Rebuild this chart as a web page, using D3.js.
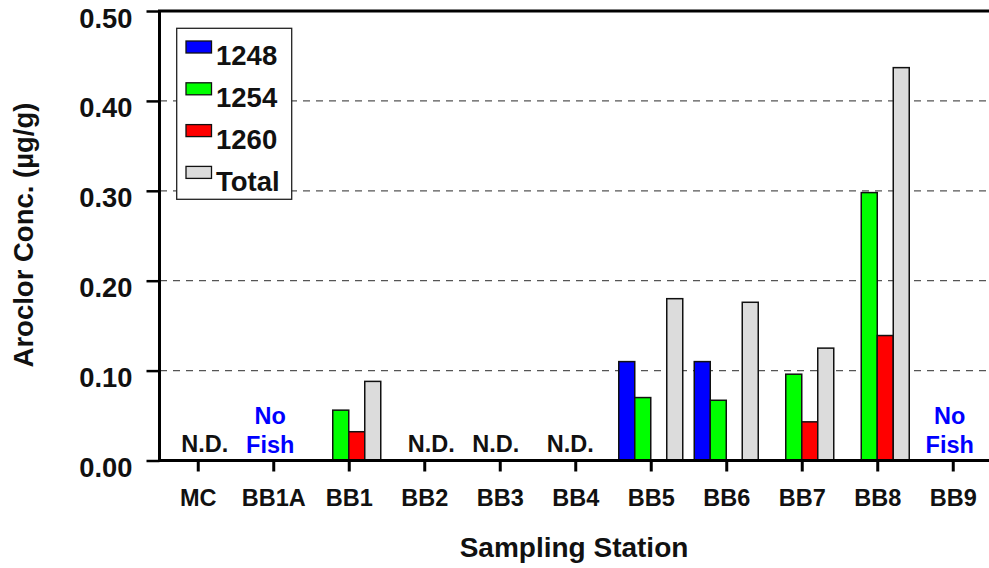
<!DOCTYPE html>
<html><head><meta charset="utf-8">
<script src="https://cdn.jsdelivr.net/npm/d3@7"></script>
<style>html,body{margin:0;padding:0;background:#fff;} text{font-family:"Liberation Sans",Arial,sans-serif;font-weight:bold;}</style>
</head><body>
<svg id="c" width="989" height="568"></svg>
<script>
const categories = ["MC","BB1A","BB1","BB2","BB3","BB4","BB5","BB6","BB7","BB8","BB9"];
const series = ["1248","1254","1260","Total"];
const a1248 = [null,null,null,null,null,null,0.110,0.110,null,null,null];
const a1254 = [null,null,0.056,null,null,null,0.070,0.067,0.096,0.298,null];
const a1260 = [null,null,0.032,null,null,null,null,null,0.043,0.139,null];
const aTotal = [null,null,0.088,null,null,null,0.180,0.176,0.125,0.437,null];
const notes = ["N.D.","No Fish","","N.D.","N.D.","N.D.","","","","","No Fish"];
const yTicks = [0,0.1,0.2,0.3,0.4,0.5];
const colors = ["#0000ff","#00ff00","#ff0000","#dcdcdc"];

const values = [a1248,a1254,a1260,aTotal];
const svg = d3.select("#c");
const x = d3.scalePoint().domain(categories).range([160,990.5]).padding(0.5);
const xs = d3.scaleBand().domain(series).range([-32,32]);
const y = d3.scaleLinear().domain([0,0.5]).range([460.5,11]);

// gridlines
svg.append("g").selectAll("line").data(yTicks.filter(d=>d>0 && d<0.5)).join("line")
  .attr("x1",160).attr("x2",989).attr("y1",d=>y(d)).attr("y2",d=>y(d))
  .attr("stroke","#555").attr("stroke-width",1.3).attr("stroke-dasharray","7,6");

// bars
const rows = [];
categories.forEach((c,i)=>series.forEach((s,j)=>{ if(values[j][i]!=null) rows.push({c,s,v:values[j][i],j}); }));
svg.append("g").selectAll("rect").data(rows).join("rect")
  .attr("x",d=>x(d.c)+xs(d.s)).attr("width",xs.bandwidth())
  .attr("y",d=>y(d.v)).attr("height",d=>y(0)-y(d.v))
  .attr("fill",d=>colors[d.j]).attr("stroke","#111").attr("stroke-width",1.5);

// notes
const nudge = {"MC":7,"BB2":7,"BB3":-4,"BB4":-5,"BB1A":-3,"BB9":-3};
categories.forEach((c,i)=>{
  const n = notes[i]; if(!n) return;
  if(n==="N.D."){
    svg.append("text").attr("x",x(c)+(nudge[c]||0)).attr("y",452).attr("text-anchor","middle")
      .attr("font-size",23.5).attr("fill","#111").text(n);
  } else {
    const parts = n.split(" ");
    svg.append("text").attr("x",x(c)+(nudge[c]||0)).attr("y",424).attr("text-anchor","middle")
      .attr("font-size",23.5).attr("fill","#0000ff").text(parts[0]);
    svg.append("text").attr("x",x(c)+(nudge[c]||0)).attr("y",453).attr("text-anchor","middle")
      .attr("font-size",23.5).attr("fill","#0000ff").text(parts[1]);
  }
});

// y axis
const ya = svg.append("g").attr("transform","translate(159.5,0)")
  .call(d3.axisLeft(y).tickValues(yTicks).tickFormat(d3.format(".2f")).tickSize(13).tickPadding(14));
ya.select(".domain").attr("stroke","#000").attr("stroke-width",3).attr("d","M0,12V462");
ya.selectAll(".tick line").attr("stroke","#000").attr("stroke-width",2.5);
ya.selectAll(".tick text").attr("font-size",27.3).attr("fill","#111").attr("dy",0).attr("y",16)
  .style("font-family","'Liberation Sans',Arial,sans-serif").style("font-weight","bold");

// x axis
const xa = svg.append("g").attr("transform","translate(0,460.5)")
  .call(d3.axisBottom(x).tickSize(11).tickPadding(10));
xa.select(".domain").attr("stroke","#000").attr("stroke-width",3).attr("d","M158,0H989");
xa.selectAll(".tick line").attr("stroke","#000").attr("stroke-width",3);
xa.selectAll(".tick text").attr("font-size",23.5).attr("fill","#111").attr("dy",0).attr("y",45.5)
  .style("font-family","'Liberation Sans',Arial,sans-serif").style("font-weight","bold");

// top frame line
svg.append("line").attr("x1",158).attr("x2",989).attr("y1",y(0.5)).attr("y2",y(0.5))
  .attr("stroke","#000").attr("stroke-width",3);

// titles
svg.append("text").attr("x",574).attr("y",557).attr("text-anchor","middle").attr("font-size",28)
  .attr("fill","#111").text("Sampling Station");
svg.append("text").attr("transform","translate(33,235) rotate(-90)").attr("text-anchor","middle")
  .attr("font-size",27.5).attr("fill","#111").text("Aroclor Conc. (µg/g)");

// legend
const lg = svg.append("g");
lg.append("rect").attr("x",176.7).attr("y",28.3).attr("width",115).attr("height",171)
  .attr("fill","#fff").attr("stroke","#222").attr("stroke-width",1.3);
series.forEach((s,j)=>{
  const yy = 41 + j*41.8;
  lg.append("rect").attr("x",186).attr("y",yy).attr("width",25.5).attr("height",12)
    .attr("fill",colors[j]).attr("stroke","#111").attr("stroke-width",1.3);
  lg.append("text").attr("x",216).attr("y",yy+24.2).attr("font-size",27.5).attr("fill","#111").text(s);
});
</script>
</body></html>
